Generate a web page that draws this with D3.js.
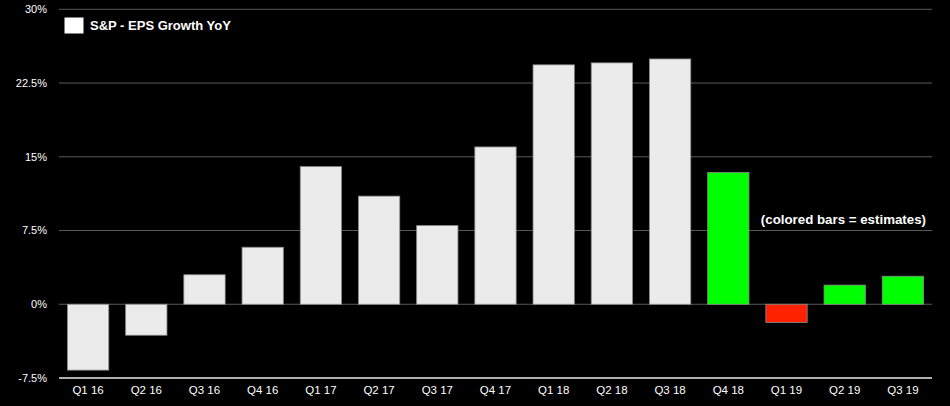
<!DOCTYPE html>
<html><head><meta charset="utf-8">
<script src="https://cdn.jsdelivr.net/npm/d3@7"></script>
<style>body{margin:0;background:#000;}svg{display:block;}</style>
</head><body>
<script>
const categories = ["Q1 16","Q2 16","Q3 16","Q4 16","Q1 17","Q2 17","Q3 17","Q4 17","Q1 18","Q2 18","Q3 18","Q4 18","Q1 19","Q2 19","Q3 19"];
const values = [-6.7,-3.15,3.0,5.8,14.0,11.0,8.0,16.0,24.35,24.55,24.95,13.4,-1.85,1.95,2.85];
const kinds = ["a","a","a","a","a","a","a","a","a","a","a","e","e","e","e"];
const yTicks = [-7.5,0,7.5,15,22.5,30];
const legendLabel = "S&P - EPS Growth YoY";
const note = "(colored bars = estimates)";

const W=950,H=406;
const svg=d3.select("body").append("svg").attr("width",W).attr("height",H).style("background","#000");
const x=d3.scaleBand().domain(categories).range([59,932]).paddingInner(0.29).paddingOuter(0.145);
const y=d3.scaleLinear().domain([-7.5,30]).range([378,9.3]);
const font="'Liberation Sans', Arial, Helvetica, sans-serif";

svg.append("g").selectAll("line").data(yTicks.filter(t=>t>-7.5)).join("line")
  .attr("x1",59).attr("x2",932).attr("y1",d=>y(d)).attr("y2",d=>y(d))
  .attr("stroke","#5a5a5a").attr("stroke-width",1);

svg.append("g").selectAll("text").data(yTicks).join("text")
  .attr("x",47).attr("y",d=>y(d)).attr("dy","0.35em").attr("text-anchor","end")
  .attr("fill","#fff").attr("font-family",font).attr("font-size",11)
  .text(d=>d+"%");

svg.append("g").selectAll("rect").data(values).join("rect")
  .attr("x",(d,i)=>x(categories[i])).attr("width",x.bandwidth())
  .attr("y",d=>y(Math.max(0,d))).attr("height",d=>Math.abs(y(d)-y(0)))
  .attr("fill",(d,i)=>kinds[i]==="a"?"#ecebec":(d<0?"#ff2200":"#00ff00"))
  .attr("stroke","#8a8a8a").attr("stroke-width",0.8);

svg.append("line").attr("x1",59).attr("x2",932).attr("y1",y(-7.5)).attr("y2",y(-7.5))
  .attr("stroke","#b0b0b0").attr("stroke-width",2);

svg.append("g").selectAll("text").data(categories).join("text")
  .attr("x",d=>x(d)+x.bandwidth()/2).attr("y",390).attr("dy","0.35em").attr("text-anchor","middle")
  .attr("fill","#fff").attr("font-family",font).attr("font-size",11.5).text(d=>d);

svg.append("rect").attr("x",64.5).attr("y",17.5).attr("width",19).attr("height",16).attr("fill","#fff");
svg.append("text").attr("x",90).attr("y",25.5).attr("dy","0.35em").attr("fill","#fff")
  .attr("font-family",font).attr("font-size",13).attr("font-weight","bold").text(legendLabel);

svg.append("text").attr("x",926).attr("y",219).attr("dy","0.35em").attr("text-anchor","end")
  .attr("fill","#fff").attr("font-family",font).attr("font-size",13.3).attr("font-weight","bold").text(note);
</script>
</body></html>
